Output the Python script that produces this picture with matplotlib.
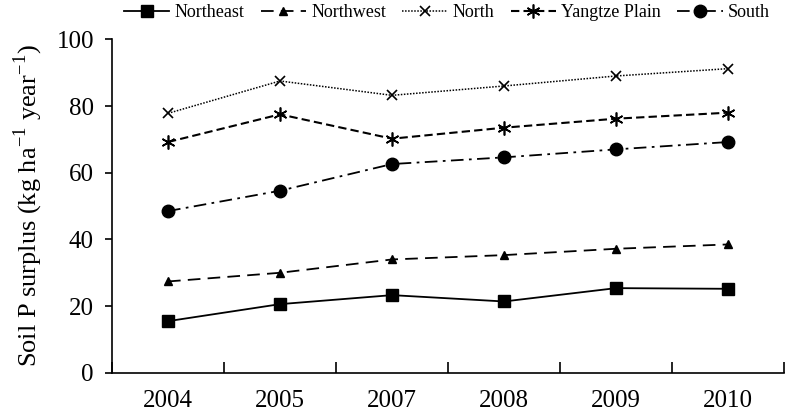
import numpy as np
import matplotlib.pyplot as plt

plt.rcParams['font.family'] = ['Liberation Serif', 'DejaVu Serif']
plt.rcParams['mathtext.fontset'] = 'custom'
plt.rcParams['mathtext.rm'] = 'Liberation Serif'

years = ['2004', '2005', '2007', '2008', '2009', '2010']
northeast = [15.5, 20.6, 23.3, 21.4, 25.4, 25.2]
northwest = [27.4, 30.0, 34.0, 35.3, 37.2, 38.5]
north = [77.8, 87.5, 83.2, 86.0, 89.0, 91.2]
yangtze = [69.2, 77.5, 70.2, 73.5, 76.2, 78.0]
south = [48.5, 54.6, 62.6, 64.6, 67.0, 69.2]

fig = plt.figure(figsize=(7.86, 4.18), dpi=100)
ax = fig.add_axes([0.1425, 0.108, 0.855, 0.798])

x = np.arange(len(years))
ax.plot(x, northeast, '-', color='black', lw=1.3, marker='s', ms=9, label='Northeast')
ax.plot(x, northwest, color='black', lw=1.3, ls=(0, (7, 4)), marker='^', ms=6, label='Northwest')
ax.plot(x, north, color='black', lw=1.1, ls=(0, (1, 1)), marker='x', ms=7, mew=1.2, label='North')
ax.plot(x, yangtze, color='black', lw=1.5, ls=(0, (4, 2)), marker=(6, 2, 0), ms=10, mew=1.2,
        label='Yangtze Plain')
ax.plot(x, south, color='black', lw=1.3, ls=(0, (7, 3, 1.5, 3)), marker='o', ms=9, label='South')

ax.set_xlim(-0.5, len(years) - 0.5)
ax.set_ylim(0, 100)
ax.set_yticks(np.arange(0, 101, 20))

# category boundaries as inward ticks, labels at centers
ax.set_xticks(np.arange(-0.5, len(years), 1.0))
ax.set_xticklabels([])
ax.tick_params(axis='x', which='major', direction='in', length=8, width=1.2)
ax.set_xticks(x, minor=True)
ax.set_xticklabels(years, minor=True)
ax.tick_params(axis='x', which='minor', length=0, pad=12, labelsize=18)
ax.tick_params(axis='y', direction='out', length=5, width=1.2, labelsize=18, pad=8)

for s in ['top', 'right']:
    ax.spines[s].set_visible(False)
for s in ['left', 'bottom']:
    ax.spines[s].set_linewidth(1.2)

ax.set_ylabel(r'Soil P surplus (kg ha$^{-1}$ year$^{-1}$)', fontsize=19, labelpad=8)

ax.legend(loc='center', bbox_to_anchor=(447 / 786, 0.969), bbox_transform=fig.transFigure,
          ncol=5, frameon=False, fontsize=13, handlelength=2.5, handletextpad=0.3,
          columnspacing=0.9, borderaxespad=0, borderpad=0)

fig.savefig('out.png', dpi=100)
